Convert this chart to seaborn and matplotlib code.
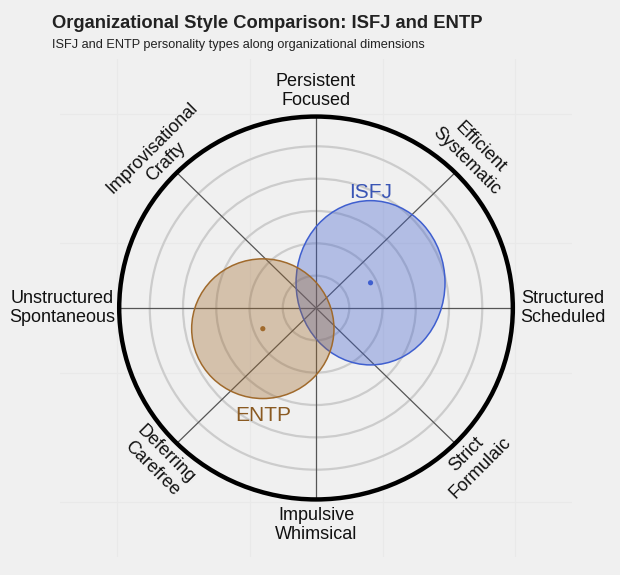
import numpy as np
import pandas as pd
import seaborn as sns
import matplotlib.pyplot as plt
from matplotlib.patches import Ellipse, Circle

# axis labels around the circle, starting at 0 deg and going counter-clockwise
dim_labels = ["Structured\nScheduled", "Efficient\nSystematic", "Persistent\nFocused",
              "Improvisational\nCrafty", "Unstructured\nSpontaneous", "Deferring\nCarefree",
              "Impulsive\nWhimsical", "Strict\nFormulaic"]
dim_angles = [0, 45, 90, 135, 180, 225, 270, 315]

# personality types: centre and spread
types = ["ISFJ", "ENTP"]
type_x = [0.82, -0.80]
type_y = [0.39, -0.32]
type_rx = [1.12, 1.07]
type_ry = [1.27, 1.08]
type_colors = ["#3f5fcf", "#a06a2c"]
text_colors = ["#3a55b5", "#8a5a22"]

ring_radii = [0.5, 1.0, 1.5, 2.0, 2.5]
outer_r = 2.96

sns.set_theme(style="whitegrid", rc={"axes.facecolor": "#f0f0f0", "figure.facecolor": "#f0f0f0",
                                     "grid.color": "#e9e9e9", "grid.linewidth": 0.8})
plt.rcParams['font.family'] = ['Liberation Sans', 'DejaVu Sans']

fig = plt.figure(figsize=(6.2, 5.75), dpi=100)
ax = fig.add_axes([0.0968, 0.0313, 0.8258, 0.8661])
ax.set_xlim(-3.85, 3.85)
ax.set_ylim(-3.85, 3.85)
ax.set_xticks([-3, -1, 1, 3])
ax.set_yticks([-3, -1, 1, 3])
ax.set_xticklabels([])
ax.set_yticklabels([])
ax.tick_params(length=0)
for s in ax.spines.values():
    s.set_visible(False)

# rings
for r in ring_radii:
    ax.add_patch(Circle((0, 0), r, fill=False, edgecolor="#cccccc", lw=1.6, zorder=1))
ax.add_patch(Circle((0, 0), outer_r, fill=False, edgecolor="black", lw=3.2, zorder=4))

# spokes
for a in [0, 45, 90, 135]:
    t = np.deg2rad(a)
    ax.plot([-outer_r*np.cos(t), outer_r*np.cos(t)], [-outer_r*np.sin(t), outer_r*np.sin(t)],
            color="#555555", lw=0.9, zorder=2)

# labels
lab_r = 3.07
for lab, a in zip(dim_labels, dim_angles):
    t = np.deg2rad(a)
    x, y = lab_r*np.cos(t), lab_r*np.sin(t)
    if a == 0:
        kw = dict(ha="left", va="center")
    elif a == 180:
        kw = dict(ha="right", va="center")
        x = -3.02
    elif a == 90:
        kw = dict(ha="center", va="bottom")
    elif a == 270:
        kw = dict(ha="center", va="top")
    elif a in (45, 225):
        kw = dict(ha="center", va="bottom" if a == 45 else "top", rotation=-45, rotation_mode="anchor")
    else:
        kw = dict(ha="center", va="bottom" if a == 135 else "top", rotation=45, rotation_mode="anchor")
    ax.text(x, y, lab, fontsize=13, color="#111111", multialignment="center", **kw)

# type ellipses
for i, name in enumerate(types):
    ax.add_patch(Ellipse((type_x[i], type_y[i]), 2*type_rx[i], 2*type_ry[i],
                         facecolor=type_colors[i], alpha=0.35, edgecolor="none", zorder=3))
    ax.add_patch(Ellipse((type_x[i], type_y[i]), 2*type_rx[i], 2*type_ry[i],
                         fill=False, edgecolor=type_colors[i], lw=1.1, zorder=3))
    if type_y[i] >= 0:
        ax.text(type_x[i], type_y[i] + type_ry[i] - 0.02, name, ha="center", va="bottom",
                fontsize=15, color=text_colors[i])
    else:
        ax.text(type_x[i], type_y[i] - type_ry[i] - 0.12, name, ha="center", va="top",
                fontsize=15, color=text_colors[i])

df = pd.DataFrame({"x": type_x, "y": type_y, "type": types})
sns.scatterplot(data=df, x="x", y="y", hue="type", palette=type_colors, s=14,
                edgecolor="none", legend=False, ax=ax, zorder=5)
ax.set_xlabel("")
ax.set_ylabel("")

fig.text(0.084, 0.951, "Organizational Style Comparison: ISFJ and ENTP", fontsize=13.2,
         fontweight="bold", color="#222222", va="baseline")
fig.text(0.084, 0.917, "ISFJ and ENTP personality types along organizational dimensions",
         fontsize=9.2, color="#222222", va="baseline")

fig.savefig("out.png", dpi=100, facecolor=fig.get_facecolor())
